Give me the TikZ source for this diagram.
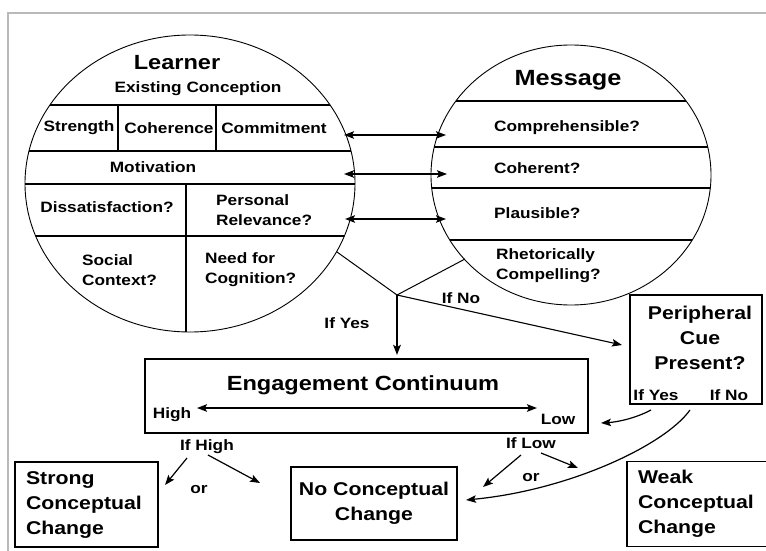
\documentclass[tikz,border=0pt]{standalone}
\usepackage{fontspec}
\setmainfont{Liberation Sans}[FakeStretch=1.15]
\usetikzlibrary{arrows.meta}

\tikzset{
  lbl/.style={font=\fontsize{15}{20}\selectfont\bfseries, inner sep=0pt},
  hdr/.style={font=\fontsize{20.5}{24}\selectfont\bfseries, inner sep=0pt},
  bigtxt/.style={font=\fontsize{18.5}{25}\selectfont\bfseries},
  box/.style={draw, line width=1.2pt},
  rule/.style={line width=1.5pt},
  fatrule/.style={line width=2.3pt},
  arr/.style={line width=1.4pt, -{Stealth[length=10pt,width=7.5pt,inset=2pt]}},
  darr/.style={line width=1.6pt, {Stealth[length=10pt,width=7.5pt,inset=2pt]}-{Stealth[length=10pt,width=7.5pt,inset=2pt]}},
}

\begin{document}
\begin{tikzpicture}[x=1pt,y=-1pt]
\useasboundingbox (0,0) rectangle (766,551);
\draw[gray!55, line width=1.6pt] (8,551) -- (8,13) -- (766,13); %frame

%%%%%%%%%%%%%%%%%%%%%%%%%%%%%%%%%%%%%%%% learner
\begin{scope}
\clip (190,183.5) ellipse [x radius=165pt, y radius=148.5pt];
\draw[rule] (0,105) -- (400,105);
\draw[rule] (0,151) -- (400,151);
\draw[fatrule] (0,184) -- (400,184);
\draw[fatrule] (0,236) -- (400,236);
\draw[rule] (118,105) -- (118,151);
\draw[rule] (216,105) -- (216,151);
\draw[rule] (186,184) -- (186,340);
\end{scope}
\draw[line width=0.9pt] (190,183.5) ellipse [x radius=165pt, y radius=148.5pt];

\node[hdr] (learner) at (177,63) {Learner};
\node[lbl] (existing) at (198,89) {Existing Conception};
\node[lbl] (strength) at (79,128) {Strength};
\node[lbl] (coherence) at (169,128) {Coherence};
\node[lbl] (commitment) at (274,128) {Commitment};
\node[lbl] (motivation) at (153,167) {Motivation};
\node[lbl] (dissat) at (107,207) {Dissatisfaction?};
\node[lbl, align=left, anchor=west] (relevance) at (216,210) {Personal\\Relevance?};
\node[lbl, align=left, anchor=west] (social) at (82,270) {Social\\Context?};
\node[lbl, align=left, anchor=west] (cognition) at (205,270) {Need for\\Cognition?};

%%%%%%%%%%%%%%%%%%%%%%%%%%%%%%%%%%%%%%%% message
\begin{scope}
\clip (571,175) ellipse [x radius=140pt, y radius=130pt];
\draw[rule] (420,101) -- (720,101);
\draw[fatrule] (420,147) -- (720,147);
\draw[fatrule] (420,188) -- (720,188);
\draw[rule] (420,240) -- (720,240);
\end{scope}
\draw[line width=0.9pt] (571,175) ellipse [x radius=140pt, y radius=130pt];

\node[hdr, font=\fontsize{22}{26}\selectfont\bfseries] (message) at (568,80) {Message};
\node[lbl, anchor=west] (compr) at (494,128) {Comprehensible?};
\node[lbl, anchor=west] (coherent) at (494,168) {Coherent?};
\node[lbl, anchor=west] (plausible) at (494,213) {Plausible?};
\node[lbl, align=left, anchor=west] (rhetoric) at (496,266) {Rhetorically\\Compelling?};

\coordinate (l1) at (344,135); \coordinate (m1) at (446,135);
\coordinate (l2) at (344,174); \coordinate (m2) at (447,174);
\coordinate (l3) at (345,219); \coordinate (m3) at (446,219);
\draw[darr] (l1) -- (m1);
\draw[darr] (l2) -- (m2);
\draw[darr] (l3) -- (m3);

%%%%%%%%%%%%%%%%%%%%%%%%%%%%%%%%%%%%%%%% fork
\coordinate (fork) at (397,295);
\coordinate (lfoot) at (337,252);
\coordinate (mfoot) at (465,259);
\coordinate (yesend) at (397,355);
\coordinate (noend) at (622,345);
\draw[line width=1pt] (lfoot) -- (fork) -- (mfoot);
\draw[arr, line width=2pt] (fork) -- (yesend);
\draw[arr, line width=1.1pt] (fork) -- (noend);
\node[lbl] (ifyes) at (347,323) {If Yes};
\node[lbl] (ifno) at (461,298) {If No};

%%%%%%%%%%%%%%%%%%%%%%%%%%%%%%%%%%%%%%%% engagement
\node[box, minimum width=443pt, minimum height=74pt] (engage) at (366.5,396) {};
\node[hdr] (engtitle) at (363,385) {Engagement Continuum};
\coordinate (hightip) at (197,408); \coordinate (lowtip) at (537,408);
\draw[darr] (hightip) -- (lowtip);
\node[lbl] (high) at (172,415) {High};
\node[lbl] (low) at (558,419) {Low};

\node[lbl] (ifhigh) at (207,447) {If High};
\coordinate (h1) at (187,458); \coordinate (h1e) at (165,485);
\coordinate (h2) at (208,455); \coordinate (h2e) at (260,483);
\draw[arr, line width=1.2pt] (h1) -- (h1e);
\draw[arr, line width=1.2pt] (h2) -- (h2e);
\node[lbl] (or1) at (199,490) {or};

\node[lbl] (iflow) at (531,443) {If Low};
\coordinate (w1) at (521,455); \coordinate (w1e) at (483,487);
\coordinate (w2) at (541,453); \coordinate (w2e) at (578,468);
\draw[arr, line width=1.2pt] (w1) -- (w1e);
\draw[arr, line width=1.2pt] (w2) -- (w2e);
\node[lbl] (or2) at (531,478) {or};

%%%%%%%%%%%%%%%%%%%%%%%%%%%%%%%%%%%%%%%% outcomes
\node[box, bigtxt, text width=121pt, align=left, minimum height=85pt, inner xsep=11pt, inner ysep=0pt] (strong) at (86.5,504.5) {Strong\\Conceptual\\Change};
\node[box, bigtxt, minimum width=166pt, minimum height=73pt, align=center, inner sep=0pt] (nochange) at (374,503.5) {No Conceptual\\Change};
\node[box, bigtxt, text width=130pt, align=left, minimum height=85pt, inner xsep=11pt, inner ysep=0pt] (weak) at (703,504) {Weak\\Conceptual\\Change};

%%%%%%%%%%%%%%%%%%%%%%%%%%%%%%%%%%%%%%%% peripheral cue
\node[box, minimum width=132pt, minimum height=109pt] (periph) at (696,349.5) {};
\node[bigtxt, align=center, inner sep=0pt] (periphT) at (700,338) {Peripheral\\Cue\\Present?};
\node[lbl] (pyes) at (656,395) {If Yes};
\node[lbl] (pno) at (729,395) {If No};

\coordinate (pyesfoot) at (651,410); \coordinate (lowin) at (601,423);
\coordinate (pnofoot) at (690,410); \coordinate (nochgin) at (466,500);
\draw[arr, line width=1.2pt] (pyesfoot) .. controls (636,418) and (618,422) .. (lowin);
\draw[arr, line width=1.2pt] (pnofoot) .. controls (665,445) and (570,490) .. (nochgin);
\end{tikzpicture}
\end{document}
